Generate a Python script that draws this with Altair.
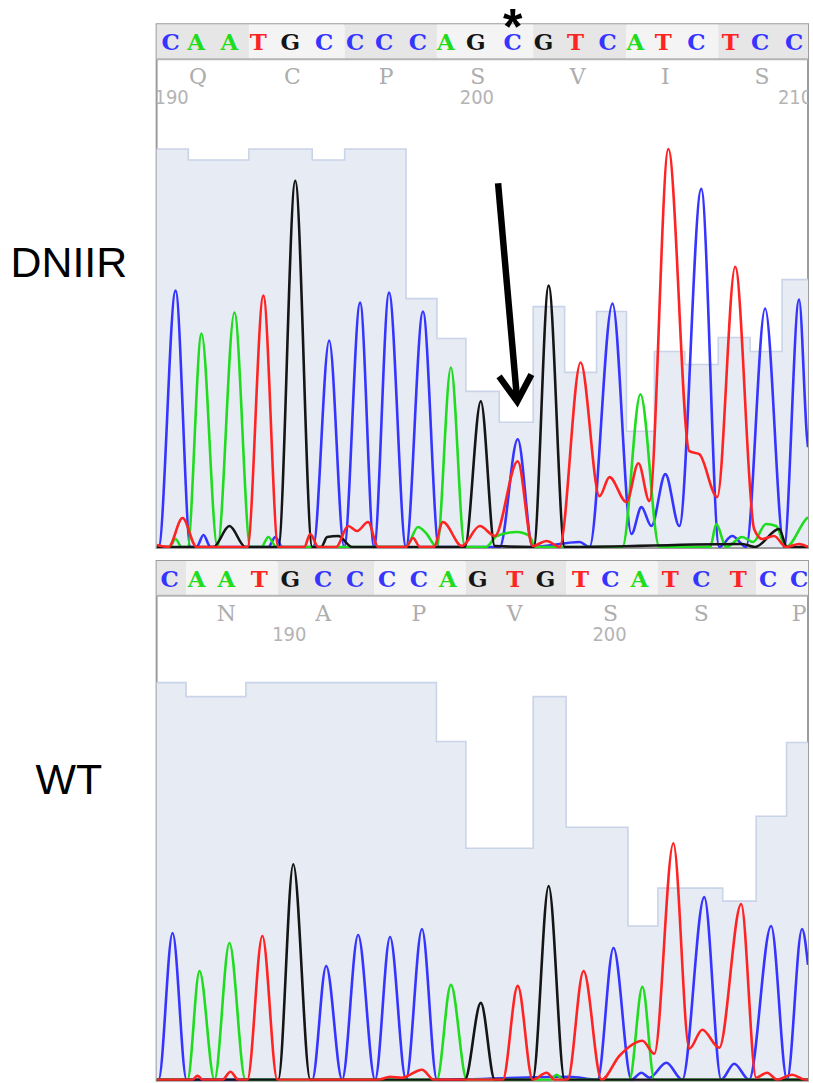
import altair as alt
import pandas as pd

# ---------------- data ----------------
# x: trace position (scan units from panel left), h: signal height
TOP_SEQ = list("CAATGCCCCAGCGTCATCTCC")
BOT_SEQ = list("CAATGCCCCAGTGTCATCTCC")
TOP_POS = [19, 44.5, 78, 107, 139, 173, 204, 233, 267, 295, 325, 362, 393, 425, 457, 485, 513, 546, 580, 610, 644]
BOT_POS = [16, 43, 73, 106, 137, 170, 202, 234, 266, 295, 325, 362, 393, 428, 458, 487, 518, 549, 586, 616, 647]
TOP_QUAL = [399, 388, 388, 399, 399, 388, 399, 399, 249, 209, 156, 125, 241, 175, 236, 116, 196, 183, 210, 196, 268]
BOT_QUAL = [398, 384, 384, 398, 398, 398, 398, 398, 398, 339, 232, 232, 384, 253, 253, 154, 192, 192, 179, 264, 338]

TOP_AA = ["Q", "C", "P", "S", "V", "I", "S"]
TOP_AA_BASE = [2, 5, 8, 11, 14, 17, 20]
BOT_AA = ["N", "A", "P", "V", "S", "S", "P"]
BOT_AA_BASE = [3, 6, 9, 12, 15, 18, 21]
TOP_NUM_BASE = [1, 11, 21]
TOP_NUM = ["190", "200", "210"]
BOT_NUM_BASE = [5, 15]
BOT_NUM = ["190", "200"]
TOP_CODONS = [(1, 3), (4, 6), (7, 9), (10, 12), (13, 15), (16, 18), (19, 21)]
BOT_CODONS = [(1, 1), (2, 4), (5, 7), (8, 10), (11, 13), (14, 16), (17, 19), (20, 21)]

TOP_TRACE_C = [(0, 0), (2, 0), (19, 257), (34, 0), (40, 0), (47, 12), (54, 0), (112, 0), (119, 10), (126, 0),
               (157, 0), (173, 207), (188, 0), (204, 245), (218, 0), (233, 255), (250, 0), (267, 236), (283, 0),
               (344, 0), (362, 108), (377, 0), (424, 5), (434, 0), (457, 244), (476, 13), (486, 40), (496, 21),
               (510, 73), (524, 21), (546, 359), (564, 0), (577, 11), (591, 0), (610, 239), (629, 0), (644, 248),
               (652, 110), (653, 100)]
TOP_TRACE_A = [(0, 0), (13, 0), (19, 8), (25, 0), (31, 0), (45, 214), (61, 0), (78, 235), (94, 0), (105, 0),
               (112, 10), (120, 0), (250, 0), (262, 20), (270, 14), (281, 0), (295, 180), (309, 0), (330, 0),
               (341, 11), (361, 15), (374, 11), (379, 0), (467, 0), (485, 153), (504, 0), (555, 0), (561, 23),
               (571, 0), (587, 10), (598, 5), (611, 23), (621, 21), (631, 0), (651, 28), (653, 30)]
TOP_TRACE_T = [(0, 2), (12, 0), (26, 29), (40, 0), (91, 0), (107, 252), (122, 0), (148, 0), (154, 13), (162, 0),
               (180, 0), (192, 21), (201, 16), (212, 25), (222, 0), (250, 0), (257, 9), (264, 0), (278, 0),
               (287, 25), (306, 1), (324, 21), (339, 11), (362, 86), (377, 1), (391, 6), (404, 0), (425, 185),
               (444, 51), (454, 70), (471, 45), (483, 84), (494, 46), (513, 399), (534, 96), (544, 93), (562, 50),
               (580, 281), (599, 18), (607, 8), (619, 11), (631, 0), (644, 3), (653, 0)]
TOP_TRACE_G = [(0, 0), (57, 0), (73, 21), (89, 0), (122, 0), (139, 367), (156, 0), (165, 0), (171, 10), (182, 11),
               (196, 0), (309, 0), (325, 146), (339, 1), (378, 0), (393, 262), (409, 0), (587, 3), (600, 0),
               (624, 18), (632, 0), (653, 0)]

BOT_TRACE_C = [(0, 0), (2, 0), (16, 147), (30, 0), (156, 0), (170, 114), (186, 0), (202, 145), (219, 0),
               (234, 143), (250, 0), (266, 151), (281, 0), (414, 3), (442, 0), (458, 132), (476, 0), (486, 7),
               (494, 2), (511, 17), (527, 0), (549, 183), (566, 0), (579, 16), (594, 0), (616, 154), (632, 0),
               (647, 151), (653, 115)]
BOT_TRACE_A = [(0, 0), (31, 0), (43, 109), (58, 0), (73, 137), (89, 0), (281, 0), (295, 95), (311, 0), (395, 0),
               (401, 5), (407, 0), (474, 0), (487, 93), (499, 0), (653, 0)]
BOT_TRACE_T = [(0, 0), (36, 0), (41, 4), (46, 0), (66, 0), (74, 8), (82, 0), (91, 0), (106, 144), (121, 0),
               (222, 0), (234, 3), (246, 2), (266, 10), (278, 0), (347, 0), (362, 94), (377, 0), (391, 7),
               (399, 0), (412, 0), (428, 109), (446, 0), (464, 24), (487, 39), (499, 26), (518, 237), (534, 31),
               (547, 50), (564, 32), (586, 176), (601, 2), (612, 7), (622, 0), (637, 5), (650, 0), (653, 0)]
BOT_TRACE_G = [(0, 0), (122, 0), (137, 216), (154, 0), (309, 0), (325, 77), (339, 0), (377, 0), (393, 194),
               (409, 0), (653, 0)]

# arrow annotation in the mutant panel (trace units)
ARROW_SHAFT = [(342.3, 364.7), (361.5, 146)]
ARROW_HEAD = [(343.3, 171), (361.5, 146), (375.7, 173)]

# ---------------- styling / layout ----------------
W = 653
BAND = 35
BASES = ["A", "C", "G", "T"]
BASE_COLORS = ["#1fdc1f", "#3535ff", "#151515", "#ff2424"]
LETTER_FONT = "'DejaVu Serif', 'Liberation Serif', serif"
NUM_FONT = "'DejaVu Sans Condensed', 'Liberation Sans Narrow', 'Liberation Sans', sans-serif"


def build_panel(seq, pos, qual, traces, aa, aa_base, num, num_base, codons,
                ymin, ymax, height, label, label_y, letter_dx, extra=None):
    xs = alt.Scale(domain=[0, W], nice=False, zero=False)
    ys = alt.Scale(domain=[ymin, ymax], nice=False, zero=False)
    X = lambda f: alt.X(f, scale=xs, axis=None)
    Y = lambda f: alt.Y(f, scale=ys, axis=None)
    base_color = alt.Color("base:N", scale=alt.Scale(domain=BASES, range=BASE_COLORS), legend=None)

    # quality steps
    qdf = pd.DataFrame({"x": [0] + pos + [W], "q": [qual[0]] + qual + [qual[-1]]})
    q_area = alt.Chart(qdf).mark_area(interpolate="step", color="#e7ebf4").encode(x=X("x:Q"), y=Y("q:Q"))
    q_line = alt.Chart(qdf).mark_line(interpolate="step", color="#c9d4e8", strokeWidth=1.6).encode(
        x=X("x:Q"), y=Y("q:Q"))

    # traces
    rows = []
    for b, pts in traces.items():
        for (x, h) in pts:
            rows.append({"base": b, "x": x, "h": h})
    tdf = pd.DataFrame(rows)
    lines = alt.Chart(tdf).mark_line(interpolate="monotone", strokeWidth=2.6, clip=True).encode(
        x=X("x:Q"), y=Y("h:Q"), color=base_color, detail="base:N")

    # codon shading in the base-call band
    crow = []
    for i, (s, e) in enumerate(codons):
        x0 = 0 if s == 1 else (pos[s - 2] + pos[s - 1]) / 2
        x1 = W if e == len(pos) else (pos[e - 1] + pos[e]) / 2
        crow.append({"x0": x0, "x1": x1, "shade": "g" if i % 2 == 0 else "l"})
    cdf = pd.DataFrame(crow)
    band = alt.Chart(cdf).mark_rect().encode(
        x=X("x0:Q"), x2="x1:Q", y=alt.value(0), y2=alt.value(BAND),
        fill=alt.Fill("shade:N", scale=alt.Scale(domain=["g", "l"], range=["#e6e6e6", "#f4f4f4"]), legend=None))
    band_line = alt.Chart(pd.DataFrame({"a": [0]})).mark_rule(color="#b4b4b4", strokeWidth=2).encode(
        x=alt.value(0), x2=alt.value(W), y=alt.value(BAND))

    ldf = pd.DataFrame({"x": pos, "base": seq})
    letters = alt.Chart(ldf).mark_text(font=LETTER_FONT, fontWeight="bold", fontSize=23,
                                       baseline="middle", dx=letter_dx).encode(
        x=X("x:Q"), y=alt.value(19), text="base:N", color=base_color)

    adf = pd.DataFrame({"x": [pos[i - 1] for i in aa_base], "aa": aa})
    aas = alt.Chart(adf).mark_text(font=LETTER_FONT, fontSize=22, color="#adadad",
                                   baseline="middle", dx=-3).encode(x=X("x:Q"), y=alt.value(53), text="aa:N")

    ndf = pd.DataFrame({"x": [pos[i - 1] for i in num_base], "n": num})
    nums = alt.Chart(ndf).mark_text(font=NUM_FONT, fontSize=20, color="#b4b4b4",
                                    baseline="middle", dx=-4, clip=True).encode(
        x=X("x:Q"), y=alt.value(74), text="n:N")

    lab = alt.Chart(pd.DataFrame({"t": [label]})).mark_text(
        font="Liberation Sans", fontSize=43, align="center", baseline="alphabetic", color="#000000").encode(
        x=alt.value(-88), y=alt.value(label_y), text="t:N")

    layers = [q_area, q_line, lines, band, band_line, letters, aas, nums, lab]
    if extra:
        layers += extra(X, Y)
    return alt.layer(*layers).properties(width=W, height=height)


def top_extras(X, Y):
    sdf = pd.DataFrame({"x": [ARROW_SHAFT[0][0]], "y": [ARROW_SHAFT[0][1]],
                        "x2": [ARROW_SHAFT[1][0]], "y2": [ARROW_SHAFT[1][1]]})
    shaft = alt.Chart(sdf).mark_rule(color="black", strokeWidth=6.5, strokeCap="butt").encode(
        x=X("x:Q"), y=Y("y:Q"), x2="x2:Q", y2="y2:Q")
    hdf = pd.DataFrame({"x": [p[0] for p in ARROW_HEAD], "y": [p[1] for p in ARROW_HEAD], "o": [0, 1, 2]})
    head = alt.Chart(hdf).mark_line(color="black", strokeWidth=6.5, strokeJoin="miter", strokeCap="butt").encode(
        x=X("x:Q"), y=Y("y:Q"), order="o:Q")
    adf = pd.DataFrame({"x": [TOP_POS[11]], "t": ["*"]})
    star = alt.Chart(adf).mark_text(font="Liberation Sans", fontWeight="bold", fontSize=50, dx=-5,
                                    baseline="alphabetic", color="black").encode(
        x=X("x:Q"), y=alt.value(20), text="t:N")
    return [shaft, head, star]


top = build_panel(TOP_SEQ, TOP_POS, TOP_QUAL,
                  {"C": TOP_TRACE_C, "A": TOP_TRACE_A, "G": TOP_TRACE_G, "T": TOP_TRACE_T},
                  TOP_AA, TOP_AA_BASE, TOP_NUM, TOP_NUM_BASE, TOP_CODONS,
                  -1, 524, 525, "DNIIR", 253, -5, extra=top_extras)
bottom = build_panel(BOT_SEQ, BOT_POS, BOT_QUAL,
                     {"C": BOT_TRACE_C, "A": BOT_TRACE_A, "G": BOT_TRACE_G, "T": BOT_TRACE_T},
                     BOT_AA, BOT_AA_BASE, BOT_NUM, BOT_NUM_BASE, BOT_CODONS,
                     -1, 520, 521, "WT", 234, -3)

chart = alt.vconcat(top, bottom, spacing=11).properties(
    padding={"left": 9, "top": 2, "right": 0, "bottom": 0},
    background="white",
).configure_view(stroke="#9c9c9c", strokeWidth=2)

chart.save("out.html", embed_options={"renderer": "svg", "actions": False})
